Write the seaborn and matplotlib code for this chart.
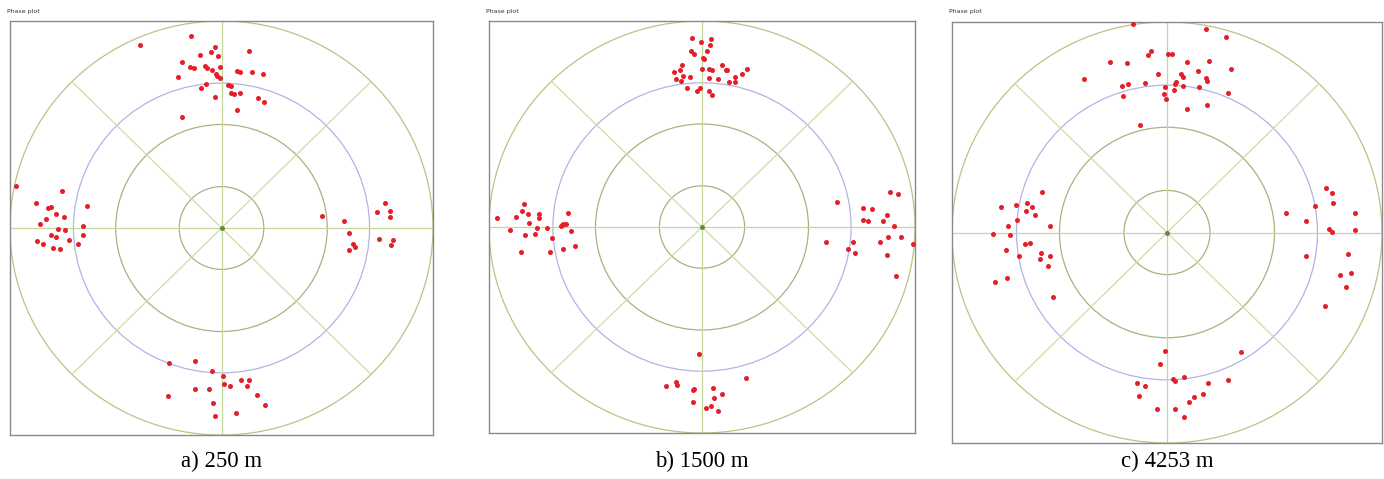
import pandas as pd
import matplotlib
matplotlib.use("Agg")
import matplotlib.pyplot as plt
import seaborn as sns
from matplotlib.patches import Circle

# ------------------------------------------------------------------
# Phase plot samples (I, Q), normalised so the outer ring has radius 1
# ------------------------------------------------------------------
captions = ["a) 250 m", "b) 1500 m", "c) 4253 m"]

i_250 = [
    -0.143, -0.383, 0.129, -0.033, -0.052, -0.017, -0.104, -0.189, -0.151, -0.128,
    -0.076, -0.068, -0.044, -0.008, 0.074, 0.087, 0.145, 0.197, -0.205, -0.028,
    -0.020, -0.009, -0.071, -0.098, 0.031, 0.046, 0.043, 0.058, 0.087, -0.033,
    0.173, 0.200, 0.071, -0.186,
    -0.973, -0.754, -0.879, -0.635, -0.808, -0.820, -0.784, -0.745, -0.831, -0.860,
    -0.654, -0.773, -0.742, -0.657, -0.805, -0.784, -0.721, -0.874, -0.844, -0.679,
    -0.798, -0.762,
    0.476, 0.775, 0.735, 0.795, 0.798, 0.581, 0.602, 0.743, 0.811, 0.803, 0.622,
    0.633, 0.605,
    -0.123, -0.246, -0.046, 0.008, 0.014, 0.041, 0.090, 0.129, 0.120, -0.123,
    -0.058, -0.254, 0.170, -0.041, 0.205, 0.069, -0.033,
]
q_250 = [
    0.929, 0.885, 0.856, 0.873, 0.852, 0.829, 0.835, 0.800, 0.776, 0.771,
    0.784, 0.773, 0.763, 0.777, 0.760, 0.752, 0.755, 0.745, 0.729, 0.744,
    0.732, 0.723, 0.697, 0.677, 0.690, 0.684, 0.650, 0.645, 0.653, 0.632,
    0.626, 0.611, 0.569, 0.537,
    0.203, 0.179, 0.119, 0.106, 0.103, 0.095, 0.066, 0.055, 0.045, 0.021,
    0.010, -0.003, -0.011, -0.032, -0.035, -0.042, -0.058, -0.063, -0.076, -0.076,
    -0.095, -0.100,
    0.056, 0.123, 0.079, 0.082, 0.053, 0.034, -0.026, -0.052, -0.058, -0.084, -0.076,
    -0.092, -0.106,
    -0.644, -0.653, -0.689, -0.713, -0.753, -0.761, -0.732, -0.732, -0.763, -0.776,
    -0.776, -0.811, -0.805, -0.844, -0.853, -0.895, -0.906,
]

i_1500 = [
    -0.045, 0.042, -0.003, 0.038, -0.052, -0.036, 0.022, 0.006, 0.011, -0.095,
    0.092, -0.002, 0.034, 0.047, 0.111, 0.119, 0.213, -0.103, -0.131, 0.189,
    -0.091, -0.056, 0.034, 0.074, 0.155, -0.122, -0.099, 0.128, 0.153, -0.069,
    -0.009, -0.022, 0.034, 0.045,
    -0.961, -0.875, -0.834, -0.847, -0.815, -0.764, -0.767, -0.631, -0.814, -0.903,
    -0.776, -0.729, -0.664, -0.651, -0.638, -0.657, -0.613, -0.831, -0.786, -0.706,
    -0.596, -0.653, -0.850, -0.714,
    0.881, 0.920, 0.635, 0.757, 0.800, 0.867, 0.754, 0.781, 0.851, 0.900,
    0.872, 0.933, 0.581, 0.710, 0.834, 0.989, 0.685, 0.718, 0.870, 0.912,
    -0.014, 0.205, -0.120, -0.117, -0.170, -0.036, -0.041, 0.053, 0.095, 0.058,
    -0.042, 0.042, 0.017, 0.077,
]
q_1500 = [
    0.919, 0.914, 0.900, 0.885, 0.856, 0.840, 0.856, 0.821, 0.814, 0.787,
    0.784, 0.769, 0.769, 0.761, 0.761, 0.762, 0.769, 0.761, 0.751, 0.745,
    0.732, 0.729, 0.725, 0.719, 0.729, 0.717, 0.709, 0.706, 0.704, 0.677,
    0.676, 0.659, 0.662, 0.640,
    0.044, 0.050, 0.110, 0.079, 0.061, 0.063, 0.044, 0.068, 0.021, -0.013,
    -0.006, -0.006, 0.006, 0.013, 0.015, 0.008, -0.021, -0.037, -0.034, -0.053,
    -0.090, -0.107, -0.123, -0.120,
    0.168, 0.158, 0.120, 0.092, 0.089, 0.057, 0.034, 0.029, 0.029, 0.006,
    -0.047, -0.050, -0.073, -0.073, -0.073, -0.084, -0.105, -0.124, -0.136, -0.237,
    -0.617, -0.735, -0.752, -0.767, -0.772, -0.788, -0.793, -0.780, -0.811, -0.830,
    -0.848, -0.870, -0.879, -0.895,
]

i_4253 = [
    -0.156, 0.181, 0.276, -0.073, -0.088, 0.003, 0.025, -0.265, -0.187, 0.094,
    0.197, 0.296, -0.042, 0.067, 0.074, 0.142, 0.181, 0.187, -0.387, -0.209,
    -0.181, -0.102, 0.042, 0.036, 0.073, 0.149, -0.009, 0.034, 0.283, -0.012,
    -0.006, -0.206, 0.094, 0.184, -0.125,
    -0.582, -0.774, -0.703, -0.653, -0.628, -0.655, -0.613, -0.700, -0.741, -0.545,
    -0.810, -0.731, -0.661, -0.639, -0.748, -0.689, -0.588, -0.593, -0.542, -0.554,
    -0.802, -0.746, -0.531,
    0.738, 0.769, 0.772, 0.687, 0.554, 0.876, 0.647, 0.755, 0.769, 0.873,
    0.647, 0.841, 0.805, 0.858, 0.831, 0.734,
    -0.009, 0.344, -0.031, 0.026, 0.036, 0.079, -0.139, -0.102, 0.189, 0.286,
    -0.132, 0.169, 0.127, 0.101, -0.048, 0.036, 0.077,
]
q_4253 = [
    0.992, 0.967, 0.927, 0.862, 0.844, 0.848, 0.849, 0.810, 0.803, 0.810,
    0.816, 0.776, 0.751, 0.752, 0.741, 0.767, 0.735, 0.722, 0.729, 0.698,
    0.705, 0.708, 0.714, 0.705, 0.695, 0.690, 0.689, 0.675, 0.665, 0.659,
    0.635, 0.648, 0.586, 0.608, 0.511,
    0.194, 0.121, 0.130, 0.141, 0.119, 0.102, 0.083, 0.059, 0.032, 0.029,
    -0.006, -0.010, -0.054, -0.052, -0.083, -0.113, -0.098, -0.125, -0.113, -0.159,
    -0.233, -0.216, -0.306,
    0.210, 0.187, 0.140, 0.124, 0.094, 0.094, 0.054, 0.016, 0.003, 0.011,
    -0.110, -0.100, -0.202, -0.194, -0.257, -0.349,
    -0.562, -0.568, -0.625, -0.695, -0.706, -0.687, -0.714, -0.730, -0.714, -0.703,
    -0.776, -0.765, -0.783, -0.805, -0.838, -0.838, -0.876,
]

ring_radii = [0.2, 0.5, 1.0]
ref_radius = 0.7

panels = [
    (captions[0], i_250, q_250),
    (captions[1], i_1500, q_1500),
    (captions[2], i_4253, q_4253),
]

# axes boxes in figure pixels: left, top, right, bottom
boxes = [(10, 21, 433, 435), (489, 21, 915, 433), (952, 22, 1382, 443)]

W, H = 1384, 479

sns.set_theme(style="white")
plt.rcParams["font.family"] = ["DejaVu Sans"]

fig = plt.figure(figsize=(W / 100, H / 100), dpi=100)
fig.patch.set_facecolor("white")


def draw_grid(ax):
    for r in ring_radii:
        col = "#a9b27f" if r < 1.0 else "#b9c486"
        ax.add_patch(Circle((0, 0), r, fill=False, ec=col, lw=0.9, zorder=1))
    ax.add_patch(Circle((0, 0), ref_radius, fill=False, ec="#b4b2e6", lw=0.9, zorder=1))
    ax.axhline(0, color="#c3d89a", lw=0.9, zorder=1)
    ax.axvline(0, color="#c3d89a", lw=0.9, zorder=1)
    d = 0.7071
    ax.plot([-d, d], [-d, d], color="#cfdca6", lw=0.9, zorder=1)
    ax.plot([-d, d], [d, -d], color="#cfdca6", lw=0.9, zorder=1)
    ax.plot([0], [0], marker="o", ms=2.5, color="#5f8a3a", zorder=2)


for (caption, i_vals, q_vals), (l, t, r, b) in zip(panels, boxes):
    ax = fig.add_axes([l / W, 1 - b / H, (r - l) / W, (b - t) / H])
    draw_grid(ax)
    df = pd.DataFrame({"I": i_vals, "Q": q_vals})
    sns.scatterplot(data=df, x="I", y="Q", ax=ax, color="#e41f28", s=13,
                    linewidth=0, zorder=3, clip_on=False)
    ax.set_xlim(-1.0, 1.0)
    ax.set_ylim(-1.0, 1.0)
    ax.set_xticks([])
    ax.set_yticks([])
    ax.set_xlabel("")
    ax.set_ylabel("")
    for s in ax.spines.values():
        s.set_color("#8a8a8a")
        s.set_linewidth(1.0)
    fig.text((l - 3) / W, 1 - 12 / H, "Phase plot", fontsize=4.5,
             color="#333333", ha="left", va="center")
    fig.text((l + r) / 2 / W, 1 - 461 / H, caption, fontsize=16.5,
             family=["Liberation Serif", "DejaVu Serif"], ha="center",
             va="center", color="black")

fig.savefig("out.png", dpi=100, facecolor="white")
